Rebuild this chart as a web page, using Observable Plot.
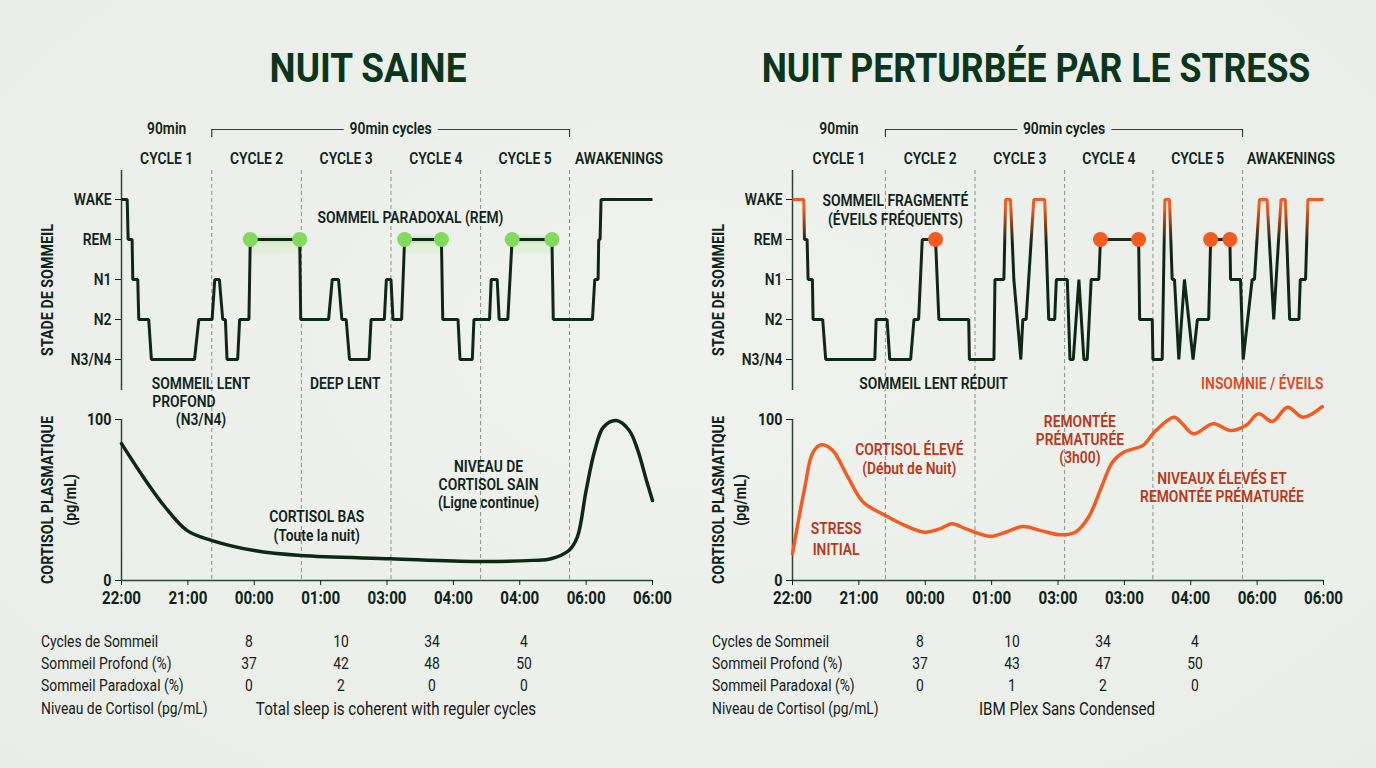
<!DOCTYPE html>
<html><head><meta charset="utf-8">
<script src="https://cdn.jsdelivr.net/npm/d3@7"></script>
<script src="https://cdn.jsdelivr.net/npm/@observablehq/plot@0.6"></script>
<style>
html,body{margin:0;padding:0;background:#ebefe9;}
#root{position:relative;width:1376px;height:768px;overflow:hidden;background:radial-gradient(ellipse at 50% 45%, #eff2ed 0%, #e9ede7 100%);}
.t{position:absolute;white-space:nowrap;color:#0f2418;line-height:1;}
.w{position:absolute;width:688px;}
</style>
</head><body><div id="root"></div>
<script>
// ---------------- DATA ----------------
const stages = ["WAKE", "REM", "N1", "N2", "N3/N4"];
const hourTicks = [0, 1, 2, 3, 4, 5, 6, 7, 8];
const hourLabelsSaine = ["22:00", "21:00", "00:00", "01:00", "03:00", "04:00", "04:00", "06:00", "06:00"];
const hourLabelsStress = ["22:00", "21:00", "00:00", "01:00", "03:00", "03:00", "04:00", "06:00", "06:00"];
const cycleLabels = ["CYCLE 1", "CYCLE 2", "CYCLE 3", "CYCLE 4", "CYCLE 5", "AWAKENINGS"];
const cycleBoundsSaine = [1.36, 2.71, 4.06, 5.41, 6.75];
const cycleBoundsStress = [1.40, 2.75, 4.10, 5.43, 6.78];

const hypnoSaine = [[0,"WAKE"],[0.086,"WAKE"],[0.10,"REM"],[0.16,"REM"],[0.17,"N1"],[0.245,"N1"],[0.26,"N2"],[0.41,"N2"],[0.45,"N3/N4"],[1.10,"N3/N4"],[1.165,"N2"],[1.365,"N2"],[1.405,"N1"],[1.475,"N1"],[1.525,"N2"],[1.565,"N2"],[1.59,"N3/N4"],[1.75,"N3/N4"],[1.78,"N2"],[1.92,"N2"],[1.94,"REM"],[2.685,"REM"],[2.70,"N2"],[3.12,"N2"],[3.175,"N1"],[3.27,"N1"],[3.32,"N2"],[3.385,"N2"],[3.435,"N3/N4"],[3.73,"N3/N4"],[3.76,"N2"],[3.96,"N2"],[3.99,"N1"],[4.06,"N1"],[4.09,"N2"],[4.22,"N2"],[4.265,"REM"],[4.82,"REM"],[4.84,"N2"],[5.07,"N2"],[5.10,"N3/N4"],[5.285,"N3/N4"],[5.31,"N2"],[5.545,"N2"],[5.57,"N1"],[5.66,"N1"],[5.69,"N2"],[5.82,"N2"],[5.885,"REM"],[6.485,"REM"],[6.505,"N2"],[7.095,"N2"],[7.13,"N1"],[7.18,"N1"],[7.19,"REM"],[7.21,"REM"],[7.225,"WAKE"],[8,"WAKE"]];
const remSaine = [[1.94, 2.685], [4.265, 4.82], [5.885, 6.485]];

const hypnoStress = [[0,"WAKE"],[0.17,"WAKE"],[0.18,"REM"],[0.22,"REM"],[0.235,"N1"],[0.30,"N1"],[0.31,"N2"],[0.455,"N2"],[0.50,"N3/N4"],[1.24,"N3/N4"],[1.26,"N2"],[1.425,"N2"],[1.465,"N3/N4"],[1.78,"N3/N4"],[1.83,"N2"],[1.90,"N2"],[1.955,"REM"],[2.155,"REM"],[2.205,"N2"],[2.655,"N2"],[2.665,"N3/N4"],[3.035,"N3/N4"],[3.05,"N1"],[3.185,"N1"],[3.21,"WAKE"],[3.285,"WAKE"],[3.335,"N1"],[3.44,"N3/N4"],[3.47,"N2"],[3.52,"N2"],[3.635,"WAKE"],[3.80,"WAKE"],[3.86,"N2"],[3.95,"N2"],[3.975,"N1"],[4.14,"N1"],[4.18,"N3/N4"],[4.23,"N3/N4"],[4.315,"N1"],[4.39,"N3/N4"],[4.44,"N3/N4"],[4.50,"N1"],[4.615,"N1"],[4.64,"REM"],[5.215,"REM"],[5.23,"N2"],[5.42,"N2"],[5.43,"N3/N4"],[5.57,"N3/N4"],[5.61,"WAKE"],[5.68,"WAKE"],[5.72,"N1"],[5.755,"N1"],[5.82,"N3/N4"],[5.905,"N1"],[6.035,"N3/N4"],[6.10,"N2"],[6.27,"N2"],[6.30,"REM"],[6.59,"REM"],[6.60,"N1"],[6.75,"N1"],[6.79,"N3/N4"],[6.925,"N1"],[6.96,"N1"],[7.035,"WAKE"],[7.15,"WAKE"],[7.25,"N2"],[7.36,"WAKE"],[7.425,"WAKE"],[7.49,"N2"],[7.63,"N2"],[7.65,"N1"],[7.73,"N1"],[7.765,"WAKE"],[8,"WAKE"]];
const remDotsStress = [2.155, 4.64, 5.215, 6.30, 6.59];

const cortisolSaine = [[0,85],[0.333,64],[0.66,45.5],[0.99,31],[1.365,24.8],[2.0,18.6],[2.7,15.5],[4.06,13.5],[5.36,11.8],[6.2,12.5],[6.47,13.5],[6.74,18.6],[6.867,26.9],[7.0,55.9],[7.13,80.7],[7.26,95.2],[7.455,99.4],[7.65,93.2],[7.78,80.7],[7.91,62],[8.0,49.7]];
const cortisolStress = [[0,16.6],[0.177,56],[0.31,79.7],[0.44,84.3],[0.606,80.7],[0.836,64.2],[1.067,48.6],[1.397,40.4],[1.69,34.2],[1.99,30],[2.22,32.1],[2.40,35.2],[2.615,32.1],[2.98,27.5],[3.21,30],[3.47,33.5],[3.74,31],[4.03,28.4],[4.26,30],[4.46,39.3],[4.655,58],[4.82,73.5],[4.99,79.7],[5.28,83.9],[5.45,92.1],[5.75,101.4],[5.875,97.3],[6.04,91.1],[6.34,97.3],[6.6,93.2],[6.83,96.3],[7.02,103.5],[7.23,98.8],[7.46,107.6],[7.69,101.4],[7.98,108]];

const tableRowLabels = ["Cycles de Sommeil", "Sommeil Profond (%)", "Sommeil Paradoxal (%)", "Niveau de Cortisol (pg/mL)"];
const tableSaine = [[8, 10, 34, 4], [37, 42, 48, 50], [0, 2, 0, 0]];
const tableNoteSaine = "Total sleep is coherent with reguler cycles";
const tableStress = [[8, 10, 34, 4], [37, 43, 47, 50], [0, 1, 2, 0]];
const tableNoteStress = "IBM Plex Sans Condensed";

// ---------------- STYLE ----------------
const FONT = "Roboto, 'Liberation Sans', sans-serif";
const SQ = 0.84; // horizontal condensing of glyphs
const BG = "#ebefe9", DARK = "#10241a", TITLE = "#0c361c", LINE = "#0e2717", AXIS = "#2c4433";
const DASH = "#86928a", GREEN = "#82d95e", ORANGE = "#f35b20", RED = "#b9371b", RED2 = "#e0481f";

const root = document.getElementById("root");
function html(text, x, y, css = {}, anchor = "middle", rotate = null, sq = SQ) {
  const d = document.createElement("div");
  d.className = "t";
  d.textContent = text;
  Object.assign(d.style, {left: x + "px", top: y + "px", fontFamily: FONT}, css);
  const tx = anchor === "middle" ? "-50%" : anchor === "end" ? "-100%" : "0";
  d.style.transformOrigin = anchor === "start" ? "left center" : "center center";
  d.style.transform = `translate(${tx},-50%)` + (rotate ? ` rotate(${rotate})` : "") + ` scaleX(${sq})`;
  root.appendChild(d);
}
function condense(svg, f) {
  svg.querySelectorAll("text").forEach(t => {
    const L = t.getComputedTextLength();
    if (L > 0) {
      t.setAttribute("textLength", (L * f).toFixed(2));
      t.setAttribute("lengthAdjust", "spacingAndGlyphs");
    }
  });
}
function place(svg, left, top) {
  const w = document.createElement("div");
  w.className = "w";
  w.style.left = left + "px"; w.style.top = top + "px";
  w.appendChild(svg);
  root.appendChild(w);
  condense(svg, SQ);
}
const baseStyle = {fontFamily: FONT, background: "transparent", overflow: "visible", color: DARK, fontSize: "16px"};
const FS = 16.5, FW = 600;
function ann(text, x, dy, fill = DARK, size = FS) {
  return Plot.text([text], {x: () => x, frameAnchor: "top", dy, fill, fontSize: size, fontWeight: FW, lineAnchor: "middle"});
}

function panel(cfg) {
  const {left, mL, mR, bounds, hourLabels} = cfg;
  const edges = [0, ...bounds, 8];
  const mids = edges.slice(0, -1).map((b, i) => (b + edges[i + 1]) / 2);
  mids[5] += 0.12;
  // header
  const header = Plot.plot({
    width: 688, height: 60, marginLeft: mL, marginRight: mR, marginTop: 0, marginBottom: 0,
    style: baseStyle,
    x: {domain: [0, 8], axis: null},
    y: {domain: [0, 60], range: [0, 60], axis: null},
    marks: [
      Plot.ruleY([19], {x1: () => bounds[0], x2: () => bounds[4], stroke: AXIS, strokeWidth: 1.2}),
      Plot.ruleX([bounds[0], bounds[4]], {y1: () => 19, y2: () => 27, stroke: AXIS, strokeWidth: 1.2}),
      Plot.text(["90min cycles"], {x: () => (bounds[0] + bounds[4]) / 2, y: () => 18, fill: DARK, stroke: BG, strokeWidth: 16, paintOrder: "stroke", fontSize: FS, fontWeight: FW}),
      Plot.text(["90min"], {x: () => bounds[0] / 2, y: () => 18, fill: DARK, fontSize: FS, fontWeight: FW}),
      Plot.text(cycleLabels, {x: (d, i) => mids[i], y: () => 48, fill: DARK, fontSize: FS, fontWeight: FW})
    ]
  });
  place(header, left, 110);

  // hypnogram
  const hyp = Plot.plot({
    width: 688, height: 230, marginLeft: mL, marginRight: mR, marginTop: 0, marginBottom: 0,
    style: baseStyle,
    x: {domain: [0, 8], axis: null},
    y: {type: "point", domain: stages, range: [27.3, 190.7], padding: 0},
    marks: [
      Plot.ruleX(bounds, {stroke: DASH, strokeWidth: 1, strokeDasharray: "4,3"}),
      Plot.ruleX([0], {insetBottom: 10, stroke: AXIS, strokeWidth: 1.5}),
      Plot.axisY({tickSize: 6, tickPadding: 4, fontSize: FS, fontWeight: FW, color: DARK, label: null}),
      ...cfg.hypExtra,
      ...cfg.hypTexts
    ]
  });
  place(hyp, left, 170);
  if (cfg.after) cfg.after(hyp);

  // cortisol
  const cort = Plot.plot({
    width: 688, height: 220, marginLeft: mL, marginRight: mR, marginTop: 0, marginBottom: 40,
    style: baseStyle,
    x: {domain: [0, 8]},
    y: {domain: [0, 100], range: [180, 19]},
    marks: [
      Plot.ruleX(bounds, {stroke: DASH, strokeWidth: 1, strokeDasharray: "4,3"}),
      Plot.ruleX([0], {y1: () => 0, y2: () => 100, stroke: AXIS, strokeWidth: 1.5}),
      Plot.ruleY([0], {stroke: AXIS, strokeWidth: 1.5}),
      Plot.axisX({ticks: hourTicks, tickFormat: d => hourLabels[d], tickSize: 5, tickPadding: 6, fontSize: 18, fontWeight: 700, color: DARK, label: null}),
      Plot.axisY({ticks: [0, 100], tickSize: 6, tickPadding: 4, fontSize: 17, fontWeight: 700, color: DARK, label: null}),
      ...cfg.cortMarks,
      ...cfg.cortTexts
    ]
  });
  place(cort, left, 400);
}

// ---------------- LEFT: NUIT SAINE ----------------
panel({
  left: 0, mL: 121, mR: 36, bounds: cycleBoundsSaine, hourLabels: hourLabelsSaine,
  hypExtra: [
    Plot.ruleY(remSaine, {x1: d => d[0], x2: d => d[1], y: () => "REM", dy: 6, stroke: "#a8ea8a", strokeWidth: 16, strokeOpacity: 0.2}),
    Plot.ruleY(remSaine, {x1: d => d[0], x2: d => d[1], y: () => "REM", stroke: "#9be47c", strokeWidth: 8, strokeOpacity: 0.28}),
    Plot.line(hypnoSaine, {x: d => d[0], y: d => d[1], stroke: LINE, strokeWidth: 3, strokeLinejoin: "miter", strokeLinecap: "butt"}),
    Plot.dot(remSaine.flat(), {x: d => d, y: () => "REM", r: 7.5, fill: GREEN})
  ],
  hypTexts: [
    ann("SOMMEIL PARADOXAL (REM)", 4.354, 47),
    ann("SOMMEIL LENT", 1.198, 213),
    ann("DEEP LENT", 3.37, 213)
  ],
  cortMarks: [
    Plot.line(cortisolSaine, {x: d => d[0], y: d => d[1], curve: "catmull-rom", stroke: LINE, strokeWidth: 3.5})
  ],
  cortTexts: [
    ann("PROFOND", 0.94, 1),
    ann("(N3/N4)", 1.198, 19),
    ann("CORTISOL BAS", 2.94, 116),
    ann("(Toute la nuit)", 2.94, 135),
    ann("NIVEAU DE", 5.53, 66),
    ann("CORTISOL SAIN", 5.53, 84),
    ann("(Ligne continue)", 5.53, 102)
  ]
});

// ---------------- RIGHT: NUIT PERTURBÉE ----------------
panel({
  left: 688, mL: 104, mR: 53, bounds: cycleBoundsStress, hourLabels: hourLabelsStress,
  hypExtra: [
    Plot.line(hypnoStress, {x: d => d[0], y: d => d[1], stroke: "#010203", strokeWidth: 3, strokeLinejoin: "miter", strokeLinecap: "butt"}),
    Plot.dot(remDotsStress, {x: d => d, y: () => "REM", r: 7.5, fill: ORANGE})
  ],
  hypTexts: [
    ann("SOMMEIL FRAGMENTÉ", 1.55, 30),
    ann("(ÉVEILS FRÉQUENTS)", 1.55, 49),
    ann("SOMMEIL LENT RÉDUIT", 2.124, 213),
    ann("INSOMNIE / ÉVEILS", 7.077, 213, RED2)
  ],
  after: (svg) => {
    const y = svg.scale("y");
    const yW = y.apply("WAKE"), yR = y.apply("REM");
    const s = d3.select(svg);
    const defs = s.insert("defs", ":first-child");
    const g = defs.append("linearGradient").attr("id", "stressGrad").attr("gradientUnits", "userSpaceOnUse")
      .attr("x1", 0).attr("x2", 0).attr("y1", yW - 1).attr("y2", yR + 3);
    g.append("stop").attr("offset", 0).attr("stop-color", ORANGE);
    g.append("stop").attr("offset", 0.2).attr("stop-color", ORANGE);
    g.append("stop").attr("offset", 1).attr("stop-color", LINE);
    s.selectAll('[stroke="#010203"]').attr("stroke", "url(#stressGrad)");
  },
  cortMarks: [
    Plot.line(cortisolStress, {x: d => d[0], y: d => d[1], curve: "catmull-rom", stroke: ORANGE, strokeWidth: 3.5})
  ],
  cortTexts: [
    ann("STRESS", 0.657, 128, RED),
    ann("INITIAL", 0.657, 149, RED),
    ann("CORTISOL ÉLEVÉ", 1.76, 49, RED),
    ann("(Début de Nuit)", 1.76, 68, RED),
    ann("REMONTÉE", 4.33, 21, RED),
    ann("PRÉMATURÉE", 4.33, 39, RED),
    ann("(3h00)", 4.33, 57, RED),
    ann("NIVEAUX ÉLEVÉS ET", 6.47, 78, RED),
    ann("REMONTÉE PRÉMATURÉE", 6.47, 96, RED)
  ]
});

// ---------------- TITLES / AXIS TITLES ----------------
html("NUIT SAINE", 368, 68, {fontSize: "41px", fontWeight: "700", color: TITLE}, "middle", null, 0.9);
html("NUIT PERTURBÉE PAR LE STRESS", 1036, 68, {fontSize: "41px", fontWeight: "700", color: TITLE}, "middle", null, 0.87);
const axTitle = {fontSize: "17px", fontWeight: "700", color: DARK};
html("STADE DE SOMMEIL", 47, 290, axTitle, "middle", "-90deg");
html("CORTISOL PLASMATIQUE", 47, 500, axTitle, "middle", "-90deg");
html("(pg/mL)", 70, 500, axTitle, "middle", "-90deg");
html("STADE DE SOMMEIL", 718, 290, axTitle, "middle", "-90deg");
html("CORTISOL PLASMATIQUE", 718, 500, axTitle, "middle", "-90deg");
html("(pg/mL)", 740, 500, axTitle, "middle", "-90deg");

// ---------------- TABLES ----------------
function table(x0, values, note) {
  const rowY = [642, 664, 686, 709];
  const colX = [208, 300, 391, 483];
  const css = {fontSize: "16.5px", fontWeight: "400", color: "#15201a"};
  tableRowLabels.forEach((l, r) => html(l, x0, rowY[r], css, "start"));
  values.forEach((row, r) => row.forEach((v, c) => html(String(v), x0 + colX[c], rowY[r], css)));
  html(note, x0 + 355, rowY[3], Object.assign({}, css, {fontSize: "18px"}));
}
table(41, tableSaine, tableNoteSaine);
table(712, tableStress, tableNoteStress);
</script></body></html>
